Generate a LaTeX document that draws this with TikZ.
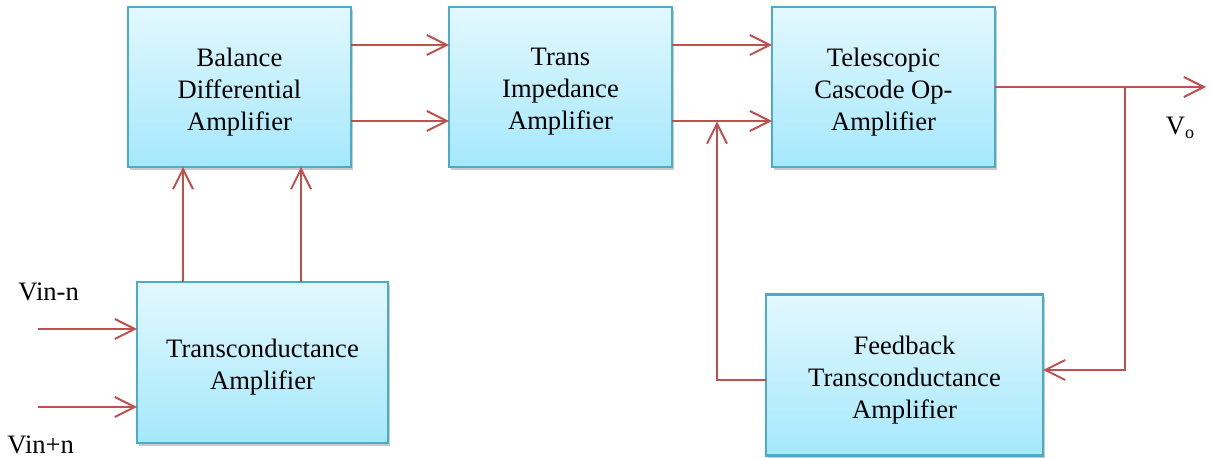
\documentclass[tikz,border=0pt]{standalone}
\usepackage{fontspec}
\setmainfont{Liberation Serif}
\usetikzlibrary{arrows.meta,shadows,calc}
\definecolor{boxline}{HTML}{4BACC6}
\definecolor{boxtop}{HTML}{E3F8FE}
\definecolor{boxbot}{HTML}{A4E8FB}
\definecolor{arrred}{HTML}{C0504D}
\begin{document}
\begin{tikzpicture}[x=0.5pt,y=-0.5pt,
  blk/.style={draw=boxline,line width=1.2pt,top color=boxtop,bottom color=boxbot,
    inner sep=0pt,outer sep=0pt,
    drop shadow={shadow xshift=1pt,shadow yshift=-1.5pt,opacity=0.35,fill=black!60}},
  txt/.style={align=center,inner sep=0pt,yshift=-2.5pt,font=\fontsize{13.3}{16}\selectfont},
  arr/.style={draw=arrred,line width=1pt,-{Straight Barb[length=10pt,width=10pt,line width=1pt]}},
  lbl/.style={font=\fontsize{13.3}{16}\selectfont,inner sep=0pt}]
\useasboundingbox (0,0) rectangle (1214,458);
\node[blk,minimum width=111.5pt,minimum height=80pt,label={[txt]center:Balance\\Differential\\Amplifier}] (bda) at (239.5,87) {};
\node[blk,minimum width=111.5pt,minimum height=80pt,label={[txt]center:Trans\\Impedance\\Amplifier}] (tia) at (560.5,87) {};
\node[blk,minimum width=111.5pt,minimum height=80pt,label={[txt]center:Telescopic\\Cascode Op-\\Amplifier}] (tel) at (883.5,87) {};
\node[blk,minimum width=125.5pt,minimum height=80.5pt,label={[txt]center:Transconductance\\Amplifier}] (tca) at (262.5,362.5) {};
\node[blk,minimum width=138.5pt,minimum height=80.5pt,label={[txt]center:Feedback\\Transconductance\\Amplifier}] (fb) at (904.5,375) {};
% labels
\node[lbl,anchor=west] (vinn) at (18,292) {Vin-n};
\node[lbl,anchor=west] (vinp) at (7,445) {Vin+n};
\node[lbl] (vo) at (1180,128) {V\raisebox{-0.35ex}{\fontsize{9}{10}\selectfont o}};
% coordinates
\coordinate (in1) at (38,329);
\coordinate (in2) at (38,407);
\coordinate (j) at (717,121.5);
\coordinate (out) at (1206,87);
\coordinate (br) at (1125,87);
% connectors
\draw[arr] ([yshift=21pt]bda.east) -- ([yshift=21pt]tia.west);
\draw[arr] ([yshift=-17pt]bda.east) -- ([yshift=-17pt]tia.west);
\draw[arr] ([yshift=21pt]tia.east) -- ([yshift=21pt]tel.west);
\draw[arr] ([yshift=-17pt]tia.east) -- ([yshift=-17pt]tel.west);
\draw[arr] (tel.east) -- (out);
\draw[arr] (br) |- ([yshift=2.5pt]fb.east);
\draw[arr] ([yshift=-2.5pt]fb.west) -| (j);
\draw[arr] ([xshift=-39.75pt]tca.north) -- ([xshift=-28.25pt]bda.south);
\draw[arr] ([xshift=19.25pt]tca.north) -- ([xshift=30.75pt]bda.south);
\draw[arr] (in1) -- (in1 -| tca.west);
\draw[arr] (in2) -- (in2 -| tca.west);
\end{tikzpicture}
\end{document}
